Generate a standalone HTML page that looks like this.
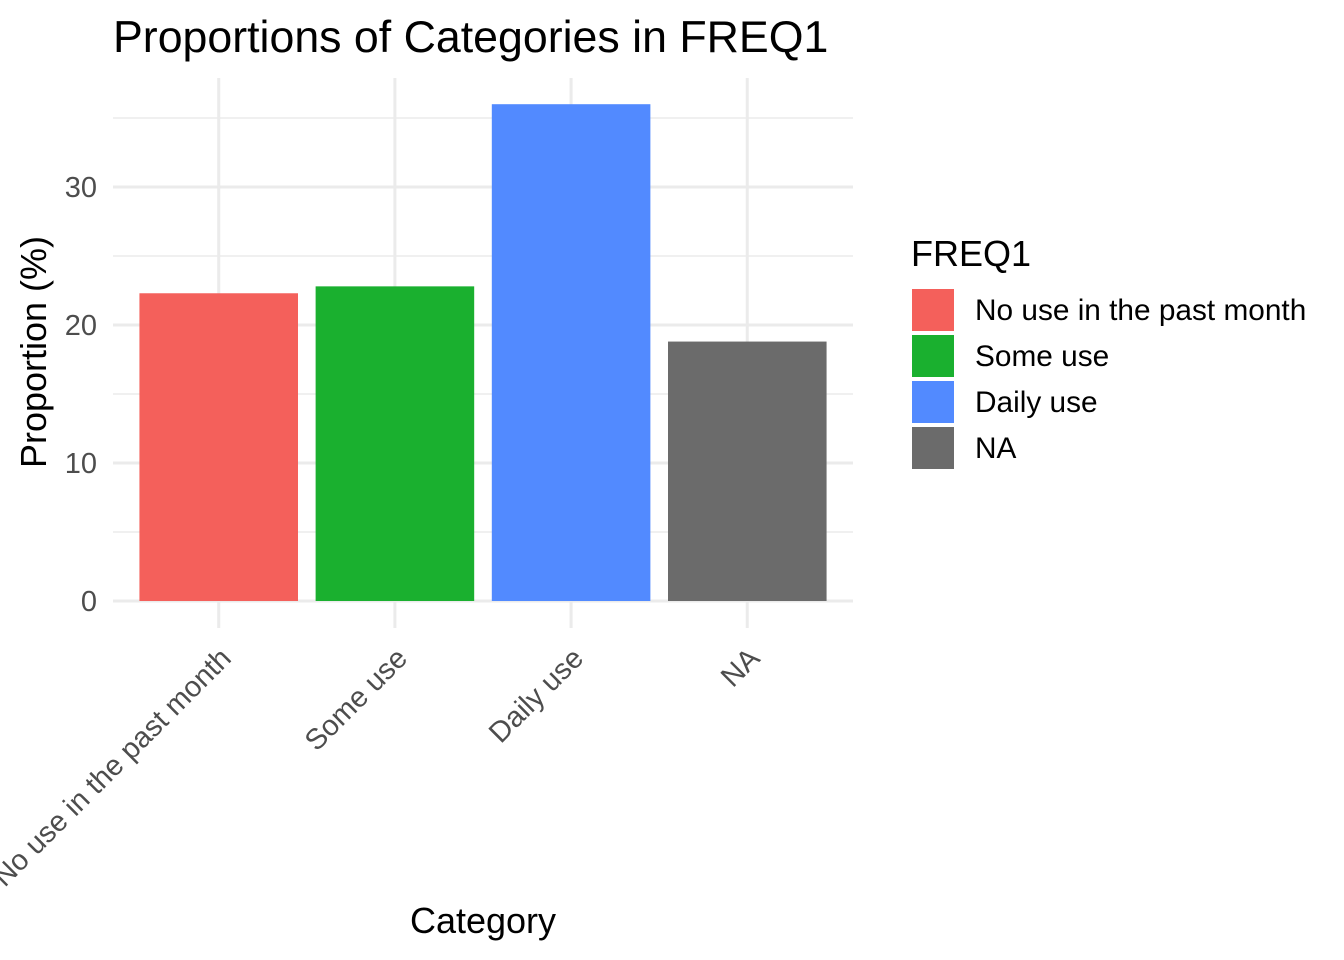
<!DOCTYPE html>
<html><head><meta charset="utf-8"><style>
body{margin:0;background:#fff}
svg{display:block;font-family:"Liberation Sans",Arial,sans-serif}
</style></head><body>
<svg id="c" width="1344" height="960">
<text x="113" y="52" font-size="44.7" fill="#000">Proportions of Categories in FREQ1</text>
<text x="483" y="933" font-size="36" text-anchor="middle" fill="#000">Category</text>
<text transform="translate(46,352) rotate(-90)" font-size="36" text-anchor="middle" fill="#000">Proportion (%)</text>
<text x="911" y="266" font-size="36" fill="#000">FREQ1</text>
<g id="grid"></g><g id="bars"></g><g id="ticks"></g><g id="legend"></g>
</svg>
<script>
const categories=["No use in the past month","Some use","Daily use","NA"];
const values=[22.3,22.8,36.0,18.8];
const colors=["#F4605B","#1AB02F","#528AFF","#6B6B6B"];
const yTicks=[0,10,20,30];
const yMinor=[5,15,25,35];
const NS="http://www.w3.org/2000/svg";
const px0=113,px1=853,py0=601,ppu=13.8,pTop=78,pBottom=628;
const step=(px1-px0)/(categories.length-1+1.2);
const xs=i=>px0+step*(i+0.6);
const ys=v=>py0-v*ppu;
function mk(t,a,p){const e=document.createElementNS(NS,t);for(const k in a)e.setAttribute(k,a[k]);p.appendChild(e);return e;}
const g=document.getElementById('grid'),b=document.getElementById('bars'),tk=document.getElementById('ticks'),lg=document.getElementById('legend');
yMinor.forEach(v=>{const l=mk('line',{x1:px0,x2:px1,y1:ys(v),y2:ys(v),stroke:'#ebebeb','stroke-width':1.5},g);

});
yTicks.forEach(v=>{const l=mk('line',{x1:px0,x2:px1,y1:ys(v),y2:ys(v),stroke:'#ebebeb','stroke-width':3},g);


const t=mk('text',{x:97,y:ys(v)+10,'font-size':29,fill:'#4d4d4d','text-anchor':'end'},tk);t.textContent=v;

});
categories.forEach((c,i)=>{const x=xs(i);
const l=mk('line',{x1:x,x2:x,y1:pTop,y2:pBottom,stroke:'#ebebeb','stroke-width':3},g);


const w=step*0.9;
const r=mk('rect',{x:x-w/2,y:ys(values[i]),width:w,height:py0-ys(values[i]),fill:colors[i]},b);


const t=mk('text',{transform:`translate(${x+14},${660}) rotate(-45)`,'font-size':29,fill:'#4d4d4d','text-anchor':'end'},tk);t.textContent=c;


const k=mk('rect',{x:912,y:289+i*46,width:42,height:42,fill:colors[i]},lg);


const lt=mk('text',{x:975,y:320+i*46,'font-size':29.8,fill:'#000'},lg);lt.textContent=c;

});
</script>
</body></html>
